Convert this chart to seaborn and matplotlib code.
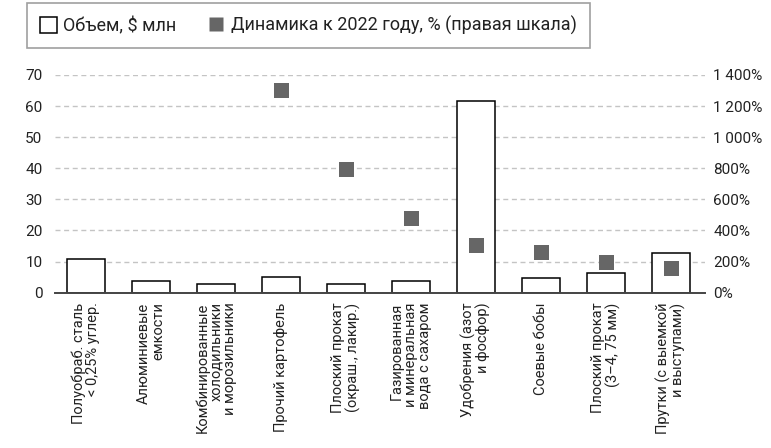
import numpy as np
import pandas as pd
import matplotlib
matplotlib.use("Agg")
import matplotlib.pyplot as plt
from matplotlib.patches import Patch
from matplotlib.lines import Line2D
from matplotlib.ticker import FuncFormatter, MultipleLocator
import seaborn as sns

# --- data ---
categories = [
    "Полуобраб. сталь\n< 0,25% углер.",
    "Алюминиевые\nемкости",
    "Комбинированные\nхолодильники\nи морозильники",
    "Прочий картофель",
    "Плоский прокат\n(окраш., лакир.)",
    "Газированная\nи минеральная\nвода с сахаром",
    "Удобрения (азот\nи фосфор)",
    "Соевые бобы",
    "Плоский прокат\n(3–4, 75 мм)",
    "Прутки (с выемкой\nи выступами)",
]
volume_musd = [10.7, 3.7, 2.7, 5.1, 2.7, 3.7, 61.5, 4.6, 6.2, 12.9]
growth_pct = [np.nan, np.nan, np.nan, 1300, 790, 474, 302, 257, 193, 154]

legend_volume = "Объем, $ млн"
legend_growth = "Динамика к 2022 году, % (правая шкала)"

df = pd.DataFrame({"cat": categories, "vol": volume_musd, "growth": growth_pct,
                   "pos": np.arange(len(categories))})

sns.set_theme(style="white")
plt.rcParams["font.family"] = ["Roboto", "DejaVu Sans"]

text_col = "#222222"
marker_col = "#666666"

fig = plt.figure(figsize=(7.71, 4.48), dpi=100)
ax = fig.add_axes([0.0713, 0.3467, 0.8430, 0.4859])

sns.barplot(data=df, x="cat", y="vol", ax=ax, color="white",
            edgecolor="black", linewidth=1.1, width=0.58, saturation=1)

ax.set_xlim(-0.48, 9.52)
ax.set_ylim(0, 70)
ax.yaxis.set_major_locator(MultipleLocator(10))
ax.set_xlabel("")
ax.set_ylabel("")
ax.set_axisbelow(True)
ax.grid(axis="y", color="#c4c4c4", linestyle=(0, (3.6, 2.6)), linewidth=1.0)
ax.grid(axis="x", visible=False)
for s in ("top", "right", "left"):
    ax.spines[s].set_visible(False)
ax.spines["bottom"].set_color("#444444")
ax.spines["bottom"].set_linewidth(1.4)
ax.tick_params(axis="y", length=0, pad=9, labelsize=11, labelcolor=text_col)
ax.tick_params(axis="x", length=0, pad=7, labelsize=10.5, labelcolor=text_col)
for lbl in ax.get_xticklabels():
    lbl.set_rotation(90)
    lbl.set_ha("center")
    lbl.set_va("top")
    lbl.set_multialignment("right")
    lbl.set_linespacing(1.0)

# right scale: dynamics vs 2022
ax2 = ax.twinx()
sns.scatterplot(data=df, x="pos", y="growth", ax=ax2, marker="s", s=117,
                color=marker_col, edgecolor="none", linewidth=0, legend=False, zorder=5)
ax2.set_ylim(0, 1400)
ax2.set_xlim(-0.48, 9.52)
ax2.yaxis.set_major_locator(MultipleLocator(200))
ax2.yaxis.set_major_formatter(FuncFormatter(
    lambda v, _: f"{int(v):,}".replace(",", " ") + "%"))
ax2.set_ylabel("")
ax2.set_xlabel("")
for s in ("top", "right", "left", "bottom"):
    ax2.spines[s].set_visible(False)
ax2.tick_params(axis="y", length=0, pad=6, labelsize=11, labelcolor=text_col)
ax2.grid(False)

# legend
handles = [
    Patch(facecolor="white", edgecolor="black", linewidth=1.1),
    Line2D([], [], marker="s", linestyle="none", markersize=10,
           markerfacecolor=marker_col, markeredgecolor="none"),
]
leg = fig.legend(handles, [legend_volume, legend_growth], ncol=2,
                 loc="upper left", bbox_to_anchor=(0.035, 0.993),
                 borderaxespad=0, frameon=True, fancybox=False, fontsize=13,
                 handlelength=0.95, handleheight=0.95, handletextpad=0.35,
                 columnspacing=1.7, borderpad=0.72, labelcolor=text_col)
leg.get_frame().set_edgecolor("#888888")
leg.get_frame().set_linewidth(1.2)

fig.savefig("out.png", dpi=100)
